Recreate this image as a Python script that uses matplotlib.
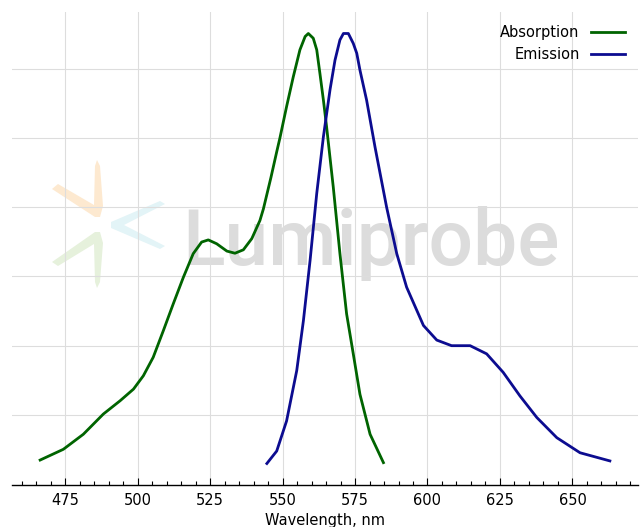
import numpy as np
import matplotlib
matplotlib.use("Agg")
import matplotlib.pyplot as plt
from matplotlib.patches import Polygon
from matplotlib.ticker import MultipleLocator

# absorption spectrum (normalised)
abs_nm = [466.4, 474.4, 481.3, 488.2, 494.0, 498.6, 502.0, 505.4, 508.9, 512.3,
          515.8, 519.2, 522.1, 524.4, 527.3, 530.8, 533.6, 536.5, 539.4, 542.2,
          543.4, 546.0, 548.0, 549.1, 551.4, 553.7, 556.0, 557.8, 558.9, 560.6,
          561.8, 562.9, 564.1, 565.2, 567.5, 569.8, 572.1, 574.4, 576.7, 580.2,
          584.8]
abs_val = [0.008, 0.033, 0.068, 0.115, 0.146, 0.173, 0.204, 0.247, 0.309, 0.371,
           0.433, 0.488, 0.515, 0.520, 0.511, 0.494, 0.489, 0.497, 0.523, 0.565,
           0.592, 0.665, 0.725, 0.757, 0.830, 0.899, 0.962, 0.993, 1.000, 0.989,
           0.962, 0.907, 0.845, 0.783, 0.643, 0.488, 0.348, 0.255, 0.161, 0.068,
           0.002]

# emission spectrum (normalised)
em_nm = [544.6, 548.0, 551.4, 554.9, 557.2, 559.5, 561.8, 564.1, 566.4, 568.1,
         569.8, 571.0, 572.7, 574.4, 575.6, 576.7, 579.0, 581.9, 585.9, 589.4,
         592.8, 598.6, 603.2, 608.3, 614.7, 620.4, 626.1, 631.9, 637.7, 644.6,
         652.6, 662.9]
em_val = [0.000, 0.029, 0.099, 0.216, 0.332, 0.472, 0.628, 0.760, 0.870, 0.938,
          0.985, 1.000, 1.000, 0.977, 0.954, 0.915, 0.845, 0.736, 0.596, 0.488,
          0.410, 0.321, 0.287, 0.274, 0.274, 0.255, 0.212, 0.157, 0.107, 0.060,
          0.025, 0.006]

fig = plt.figure(figsize=(6.41, 5.27), dpi=100)
ax = fig.add_axes([12/641, 42/527, 626/641, 473/527])

# watermark logo (decoration only), pixel coords -> axes fraction
def px(pts):
    return [((x - 12) / 626, (485 - y) / 473) for x, y in pts]

orange = [(52, 189), (58, 184), (94, 205), (95, 166), (97, 160), (100, 166), (103, 206), (100, 217), (95, 217)]
green = [(52, 262), (58, 266), (94, 244), (95, 282), (97, 288), (100, 282), (103, 243), (100, 232), (95, 232)]
cyan = [(111, 222), (111, 228), (160, 249), (165, 246), (124, 225), (165, 204), (160, 201)]
for pts, c in [(orange, "#fde9d0"), (green, "#e6f1dc"), (cyan, "#e3f4f7")]:
    ax.add_patch(Polygon(px(pts), closed=True, transform=ax.transAxes,
                         facecolor=c, edgecolor="none", zorder=0.3))
ax.text((182 - 12) / 626, (485 - 265) / 473, "Lumiprobe", transform=ax.transAxes,
        family="Roboto", fontsize=56.5, fontweight="medium", color="#dcdcdc",
        ha="left", va="baseline", zorder=0.3)

ax.plot(abs_nm, abs_val, color="#006400", lw=2.0, label="Absorption")
ax.plot(em_nm, em_val, color="#0c0c90", lw=2.0, label="Emission")

ax.set_xlim(456.7, 672.6)
ax.set_ylim(-0.05, 1.05)
ax.xaxis.set_major_locator(MultipleLocator(25))
ax.xaxis.set_minor_locator(MultipleLocator(5))
ax.set_yticks(np.arange(0.113, 1.0, 0.161))
ax.tick_params(axis="y", left=False, labelleft=False)
ax.tick_params(axis="x", which="major", direction="in", length=5, width=0.8, labelsize=10.5, pad=6)
ax.tick_params(axis="x", which="minor", direction="in", length=3, width=0.8)
ax.grid(True, color="#dddddd", lw=0.8)
for s in ["top", "right", "left"]:
    ax.spines[s].set_visible(False)
ax.spines["bottom"].set_linewidth(1.0)
ax.set_xlabel("Wavelength, nm", fontsize=10.5, labelpad=3)

ax.legend(loc="upper right", frameon=False, markerfirst=False, fontsize=10.5,
          handlelength=2.3)

fig.savefig("out.png", dpi=100)
